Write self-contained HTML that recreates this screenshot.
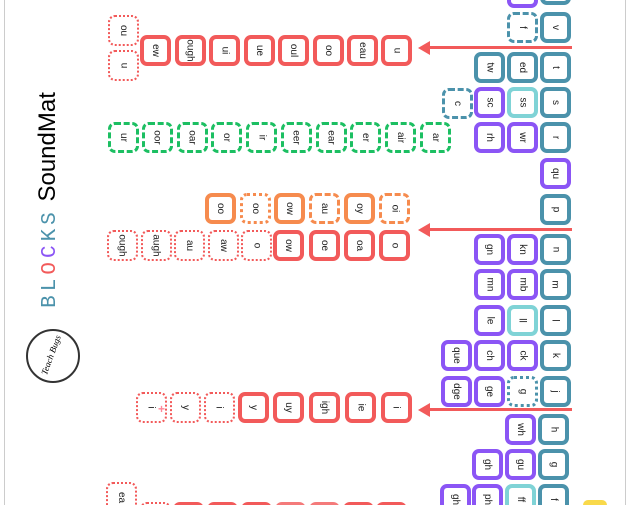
<!DOCTYPE html>
<html style="width:632px;height:505px;overflow:hidden"><head><meta charset="utf-8"><style>
html,body{margin:0;width:632px;height:505px;overflow:hidden}
body{background:#fff;font-family:"Liberation Sans",sans-serif}
#w{position:relative;width:632px;height:505px;overflow:hidden}
.t{position:absolute;width:31px;height:31px;box-sizing:border-box;border-radius:7px;background:#fff;display:flex;align-items:center;justify-content:center;font-size:10px;color:#222}
.t span{transform:rotate(90deg);white-space:nowrap}
.R{border:4px solid #f25a5a}.Rd{border:2px dotted #f25a5a}
.G{border:3px dashed #1cbf62}
.O{border:4px solid #f68b4e}.Od{border:3px dotted #f68b4e}.Oh{border:3px dashed #f68b4e}
.T{border:4px solid #4b92ab}.Td{border:3px dashed #4b92ab}.Tdd{border:3px dotted #4b92ab}
.L{border:4px solid #7fd3d6}
.P{border:4px solid #8b55f5}
.ar{position:absolute;height:3px;background:#f25a5a;left:424px;width:148px}
.ah{position:absolute;left:418px;width:0;height:0;border-top:7px solid transparent;border-bottom:7px solid transparent;border-right:12px solid #f25a5a}
.mono{font-family:"Liberation Mono","DejaVu Sans Mono",monospace;letter-spacing:4px;font-size:21px}
</style></head><body><div id="w">
<div style="position:absolute;left:4px;top:0;width:1px;height:505px;background:#ccc"></div>
<div style="position:absolute;left:625px;top:0;width:1px;height:505px;background:#ccc"></div>
<div style="position:absolute;left:48px;top:200px;transform:translate(-50%,-50%) rotate(-90deg);white-space:nowrap;font-size:24px">
<span class="mono"><span style="color:#4b92ab">BL</span><span style="color:#f25a5a">O</span><span style="color:#8b55f5">C</span><span style="color:#4b92ab">KS</span></span> <span>SoundMat</span></div>
<div style="position:absolute;left:26px;top:329px;width:50px;height:50px;border:2px solid #333;border-radius:50%"></div>
<div style="position:absolute;left:51px;top:355px;transform:translate(-50%,-50%) rotate(-70deg);font-size:9px;font-style:italic;font-family:'Liberation Serif',serif">Teach Bugs</div>

<div class="ar" style="top:46px"></div><div class="ah" style="top:40.5px"></div>
<div class="ar" style="top:228px"></div><div class="ah" style="top:222.5px"></div>
<div class="ar" style="top:408px"></div><div class="ah" style="top:402.5px"></div>

<div class="t Rd" style="left:108px;top:15px"><span>ou</span></div>
<div class="t Rd" style="left:108px;top:50px"><span>u</span></div>
<div class="t R" style="left:140px;top:35px"><span>ew</span></div>
<div class="t R" style="left:175px;top:35px"><span>ough</span></div>
<div class="t R" style="left:209px;top:35px"><span>ui</span></div>
<div class="t R" style="left:244px;top:35px"><span>ue</span></div>
<div class="t R" style="left:278px;top:35px"><span>oul</span></div>
<div class="t R" style="left:313px;top:35px"><span>oo</span></div>
<div class="t R" style="left:347px;top:35px"><span>eau</span></div>
<div class="t R" style="left:381px;top:35px"><span>u</span></div>

<div class="t G" style="left:108px;top:122px"><span>ur</span></div>
<div class="t G" style="left:142px;top:122px"><span>oor</span></div>
<div class="t G" style="left:177px;top:122px"><span>oar</span></div>
<div class="t G" style="left:211px;top:122px"><span>or</span></div>
<div class="t G" style="left:246px;top:122px"><span>ir</span></div>
<div class="t G" style="left:281px;top:122px"><span>eer</span></div>
<div class="t G" style="left:316px;top:122px"><span>ear</span></div>
<div class="t G" style="left:350px;top:122px"><span>er</span></div>
<div class="t G" style="left:385px;top:122px"><span>air</span></div>
<div class="t G" style="left:420px;top:122px"><span>ar</span></div>

<div class="t O" style="left:205px;top:193px"><span>oo</span></div>
<div class="t Od" style="left:240px;top:193px"><span>oo</span></div>
<div class="t O" style="left:274px;top:193px"><span>ow</span></div>
<div class="t Oh" style="left:309px;top:193px"><span>au</span></div>
<div class="t O" style="left:344px;top:193px"><span>oy</span></div>
<div class="t Oh" style="left:379px;top:193px"><span>oi</span></div>

<div class="t Rd" style="left:107px;top:230px"><span>ough</span></div>
<div class="t Rd" style="left:141px;top:230px"><span>augh</span></div>
<div class="t Rd" style="left:174px;top:230px"><span>au</span></div>
<div class="t Rd" style="left:208px;top:230px"><span>aw</span></div>
<div class="t Rd" style="left:241px;top:230px"><span>o</span></div>
<div class="t R" style="left:273px;top:230px"><span>ow</span></div>
<div class="t R" style="left:309px;top:230px"><span>oe</span></div>
<div class="t R" style="left:344px;top:230px"><span>oa</span></div>
<div class="t R" style="left:379px;top:230px"><span>o</span></div>

<div class="t Rd" style="left:136px;top:392px"><span>i</span></div>
<div style="position:absolute;left:158px;top:402px;color:#f89;font-size:12px;font-weight:bold">+</div>
<div class="t Rd" style="left:170px;top:392px"><span>y</span></div>
<div class="t Rd" style="left:204px;top:392px"><span>i</span></div>
<div class="t R" style="left:238px;top:392px"><span>y</span></div>
<div class="t R" style="left:273px;top:392px"><span>uy</span></div>
<div class="t R" style="left:309px;top:392px"><span>igh</span></div>
<div class="t R" style="left:345px;top:392px"><span>ie</span></div>
<div class="t R" style="left:381px;top:392px"><span>i</span></div>

<div class="t Rd" style="left:106px;top:482px"><span>ea</span></div>
<div class="t Rd" style="left:140px;top:502px"></div>
<div class="t R" style="left:173px;top:502px"></div>
<div class="t R" style="left:207px;top:502px"></div>
<div class="t R" style="left:241px;top:502px"></div>
<div class="t R" style="left:275px;top:502px;border-color:#f47a7a"></div>
<div class="t R" style="left:309px;top:502px;border-color:#f47a7a"></div>
<div class="t R" style="left:343px;top:502px"></div>
<div class="t R" style="left:376px;top:502px"></div>
<div style="position:absolute;left:583px;top:500px;width:24px;height:5px;border-radius:6px 6px 0 0;background:#f9d94a"></div>

<div class="t T" style="left:540px;top:-26px"></div>
<div class="t T" style="left:540px;top:12px"><span>v</span></div>
<div class="t T" style="left:540px;top:52px"><span>t</span></div>
<div class="t T" style="left:540px;top:87px"><span>s</span></div>
<div class="t T" style="left:540px;top:122px"><span>r</span></div>
<div class="t P" style="left:540px;top:158px"><span>qu</span></div>
<div class="t T" style="left:540px;top:194px"><span>p</span></div>
<div class="t T" style="left:540px;top:234px"><span>n</span></div>
<div class="t T" style="left:540px;top:269px"><span>m</span></div>
<div class="t T" style="left:540px;top:305px"><span>l</span></div>
<div class="t T" style="left:540px;top:340px"><span>k</span></div>
<div class="t T" style="left:540px;top:376px"><span>j</span></div>
<div class="t T" style="left:538px;top:414px"><span>h</span></div>
<div class="t T" style="left:538px;top:449px"><span>g</span></div>
<div class="t T" style="left:538px;top:484px"><span>f</span></div>

<div class="t P" style="left:507px;top:-23px"></div>
<div class="t Td" style="left:507px;top:12px"><span>f</span></div>
<div class="t T" style="left:507px;top:52px"><span>ed</span></div>
<div class="t L" style="left:507px;top:87px"><span>ss</span></div>
<div class="t P" style="left:507px;top:122px"><span>wr</span></div>
<div class="t P" style="left:507px;top:234px"><span>kn</span></div>
<div class="t P" style="left:507px;top:269px"><span>mb</span></div>
<div class="t L" style="left:507px;top:305px"><span>ll</span></div>
<div class="t P" style="left:507px;top:340px"><span>ck</span></div>
<div class="t Tdd" style="left:507px;top:376px"><span>g</span></div>
<div class="t P" style="left:505px;top:414px"><span>wh</span></div>
<div class="t P" style="left:505px;top:449px"><span>gu</span></div>
<div class="t L" style="left:505px;top:484px"><span>ff</span></div>

<div class="t T" style="left:474px;top:52px"><span>tw</span></div>
<div class="t P" style="left:474px;top:87px"><span>sc</span></div>
<div class="t P" style="left:474px;top:122px"><span>rh</span></div>
<div class="t P" style="left:474px;top:234px"><span>gn</span></div>
<div class="t P" style="left:474px;top:269px"><span>mn</span></div>
<div class="t P" style="left:474px;top:305px"><span>le</span></div>
<div class="t P" style="left:474px;top:340px"><span>ch</span></div>
<div class="t P" style="left:474px;top:376px"><span>ge</span></div>
<div class="t P" style="left:472px;top:449px"><span>gh</span></div>
<div class="t P" style="left:472px;top:484px"><span>ph</span></div>

<div class="t Td" style="left:442px;top:88px"><span>c</span></div>
<div class="t P" style="left:441px;top:340px"><span>que</span></div>
<div class="t P" style="left:441px;top:376px"><span>dge</span></div>
<div class="t P" style="left:440px;top:484px"><span>gh</span></div>
</div></body></html>
